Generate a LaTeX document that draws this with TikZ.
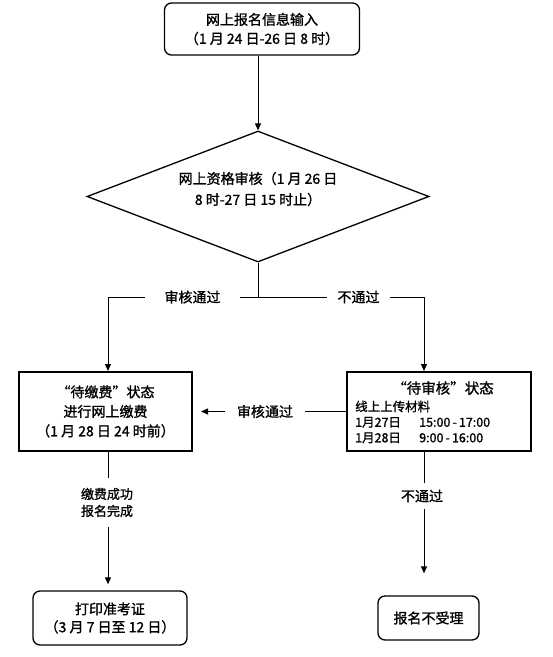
\documentclass[tikz,border=0pt]{standalone}
\usepackage{fontspec}
\setmainfont{Noto Sans CJK SC}[FakeBold=1.2]
\usetikzlibrary{arrows.meta,shapes.geometric}
\begin{document}
\begin{tikzpicture}[x=1pt,y=-1pt,
  font=\fontsize{14}{19}\selectfont,
  rbox/.style={draw,line width=1.3pt,rounded corners=7pt,align=center,inner sep=0pt},
  sbox/.style={draw,line width=2pt,align=center,inner sep=0pt},
  conn/.style={line width=1pt},
  arr/.style={conn,-{Triangle[length=7pt,width=6pt]}},
  lbl/.style={fill=white,align=center,inner sep=0pt}]
\useasboundingbox (0,0) rectangle (553,657);
% top box
\node[rbox,minimum width=195pt,minimum height=52pt] (top) at (262,29)
  {网上报名信息输入\\（1 月 24 日-26 日 8 时）};
% diamond
\node[diamond,draw,line width=1.3pt,minimum width=342pt,minimum height=131pt,inner sep=0pt] (chk) at (258,196.5) {};
\node[align=center,font=\fontsize{14}{21}\selectfont] (chktx) at (258,189) {网上资格审核（1 月 26 日\\8 时-27 日 15 时止）};
\draw[arr] (top.south -| chk.north) -- (chk.north);
% split
\coordinate (sp) at (258,297);
\coordinate (lc) at (108,297);
\coordinate (rc) at (424,297);
\draw[conn] (chk.south) -- (sp);
\draw[conn] (lc) -- (rc);
\node[lbl,minimum width=95pt,minimum height=14pt] (ok1) at (192.5,297) {审核通过};
\node[lbl,minimum width=63pt,minimum height=14pt] (no1) at (358.5,297) {不通过};
% status boxes
\node[sbox,minimum width=173pt,minimum height=79pt,font=\fontsize{14}{19.5}\selectfont] (lb) at (105.5,411.5)
  {“待缴费”状态\\进行网上缴费\\（1 月 28 日 24 时前）};
\node[sbox,minimum width=184pt,minimum height=79pt] (rb) at (439,411.5) {};
\node[font=\fontsize{14.5}{16}\selectfont] (rtitle) at (443,388) {“待审核”状态};
\node[anchor=west,align=left,inner sep=0pt,font=\fontsize{12.5}{15.5}\selectfont] (rtext) at (355,422)
  {线上上传材料\\\makebox[64pt][l]{1月27日}15:00\,-\,17:00\\\makebox[64pt][l]{1月28日}9:00\,-\,16:00};
\draw[arr] (lc) -- (lb.north -| lc);
\draw[arr] (rc) -- (rb.north -| rc);
% arrow between
\draw[arr,shorten >=8pt] (rb.west) -- (lb.east);
\node[lbl,minimum width=80pt,minimum height=14pt] (ok2) at (265,411.5) {审核通过};
% bottom boxes
\node[rbox,minimum width=154pt,minimum height=54pt,font=\fontsize{14}{18}\selectfont] (pb) at (110,618)
  {打印准考证\\（3 月 7 日至 12 日）};
\node[rbox,minimum width=101pt,minimum height=44pt] (nb) at (428.5,618) {报名不受理};
\draw[arr,shorten >=6pt] (lb.south -| lc) -- (pb.north -| lc);
\node[lbl,minimum width=56pt,minimum height=49pt,font=\fontsize{13}{17}\selectfont] (paid) at (107,502.5) {缴费成功\\报名完成};
\draw[arr,shorten >=22pt] (rb.south -| rc) -- (nb.north -| rc);
\node[lbl,minimum width=40pt,minimum height=26pt] (no2) at (422,496) {不通过};
\end{tikzpicture}
\end{document}
